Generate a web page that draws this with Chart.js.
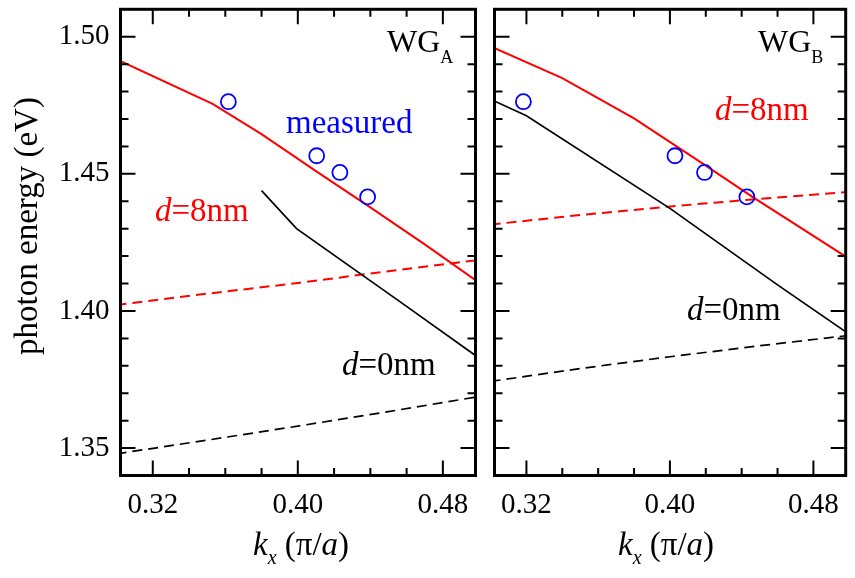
<!DOCTYPE html>
<html><head><meta charset="utf-8">
<script src="https://cdn.jsdelivr.net/npm/chart.js@4/dist/chart.umd.min.js"></script>
<style>
html,body{margin:0;padding:0;background:#fff;width:855px;height:578px;overflow:hidden}
canvas{position:absolute;top:0}
#cA{left:0}
#cB{left:485px}
</style></head><body>
<canvas id="cA" width="485" height="578"></canvas>
<canvas id="cB" width="370" height="578"></canvas>
<script>
// ---- tick labels ----
const xTickLabels = [0.32, 0.40, 0.48];
const yTickLabels = [1.35, 1.40, 1.45, 1.50];
const xMinorTicks = [0.32, 0.34, 0.36, 0.38, 0.40, 0.42, 0.44, 0.46, 0.48];
const yMinorTicks = [1.35, 1.36, 1.37, 1.38, 1.39, 1.40, 1.41, 1.42, 1.43, 1.44, 1.45, 1.46, 1.47, 1.48, 1.49, 1.50];

// ---- measured points (same energies in both panels) ----
const measuredE   = [1.4763, 1.4566, 1.4505, 1.4416];
const measuredK_A = [0.3617, 0.4104, 0.4232, 0.4385];
const measuredK_B = [0.3183, 0.4028, 0.4193, 0.4429];

// ---- WG_A ----
const kA_d8      = [0.300, 0.353, 0.380, 0.410, 0.440, 0.470, 0.500];
const eA_d8      = [1.4918, 1.4755, 1.4645, 1.4510, 1.4378, 1.4243, 1.4103];
const kA_d0      = [0.380, 0.3993, 0.4563, 0.500];
const eA_d0      = [1.4439, 1.4300, 1.4034, 1.3828];
const kA_d8_dash = [0.30, 0.35, 0.40, 0.45, 0.50];
const eA_d8_dash = [1.4022, 1.4063, 1.4102, 1.4145, 1.4186];
const kA_d0_dash = [0.30, 0.35, 0.40, 0.45, 0.50];
const eA_d0_dash = [1.3479, 1.3529, 1.3580, 1.3633, 1.3688];

// ---- WG_B ----
const kB_d8      = [0.30, 0.34, 0.38, 0.42, 0.446, 0.50];
const eB_d8      = [1.4965, 1.4849, 1.4702, 1.4530, 1.4416, 1.4190];
const kB_d0      = [0.30, 0.32, 0.40, 0.46, 0.50];
const eB_d0      = [1.4772, 1.4712, 1.4374, 1.4095, 1.3915];
const kB_d8_dash = [0.30, 0.35, 0.40, 0.45, 0.50];
const eB_d8_dash = [1.4315, 1.4350, 1.4381, 1.4409, 1.4434];
const kB_d0_dash = [0.30, 0.35, 0.40, 0.45, 0.50];
const eB_d0_dash = [1.3743, 1.3790, 1.3833, 1.3873, 1.3911];

const FONT = "'Liberation Serif', 'Times New Roman', serif";
const RED = '#ff0000', BLUE = '#0000ff', BLACK = '#000000';

function pts(xs, ys) { return xs.map((x, i) => ({x: x, y: ys[i]})); }

function drawRich(ctx, parts, x, y, color) {
  ctx.save();
  ctx.fillStyle = color;
  ctx.textBaseline = 'alphabetic';
  ctx.textAlign = 'left';
  let cx = x;
  for (const p of parts) {
    ctx.font = (p.it ? 'italic ' : '') + (p.size || 33) + 'px ' + FONT;
    ctx.fillText(p.t, cx, y + (p.dy || 0));
    cx += ctx.measureText(p.t).width + (p.gap || 0);
  }
  ctx.restore();
}

const framePlugin = {
  id: 'frameTicks',
  afterDatasetsDraw(chart) {
    const ctx = chart.ctx, a = chart.chartArea;
    const xs = chart.scales.x, ys = chart.scales.y;
    ctx.save();
    ctx.strokeStyle = BLACK;
    ctx.lineWidth = 2;
    ctx.beginPath();
    for (const v of xMinorTicks) {
      const px = xs.getPixelForValue(v);
      const len = xTickLabels.some(t => Math.abs(t - v) < 1e-6) ? 15 : 7.5;
      ctx.moveTo(px, a.bottom); ctx.lineTo(px, a.bottom - len);
      ctx.moveTo(px, a.top); ctx.lineTo(px, a.top + len);
    }
    for (const v of yMinorTicks) {
      const py = ys.getPixelForValue(v);
      const len = yTickLabels.some(t => Math.abs(t - v) < 1e-6) ? 15 : 8;
      ctx.moveTo(a.left, py); ctx.lineTo(a.left + len, py);
      ctx.moveTo(a.right, py); ctx.lineTo(a.right - len, py);
    }
    ctx.stroke();
    ctx.lineWidth = 3;
    ctx.strokeRect(a.left, a.top, a.right - a.left, a.bottom - a.top);
    ctx.restore();
  },
  afterDraw(chart) {
    const items = chart.options.plugins.frameTicks.texts || [];
    for (const it of items) {
      if (it.rotate) {
        const ctx = chart.ctx;
        ctx.save();
        ctx.translate(it.x, it.y);
        ctx.rotate(-Math.PI / 2);
        ctx.font = (it.size || 33) + 'px ' + FONT;
        ctx.fillStyle = it.color;
        ctx.textAlign = 'center';
        ctx.textBaseline = 'alphabetic';
        ctx.fillText(it.text, 0, 0);
        ctx.restore();
      } else {
        drawRich(chart.ctx, it.parts, it.x, it.y, it.color);
      }
    }
  }
};

function datasets(mk, kd8, ed8, kd0, ed0, kd8d, ed8d, kd0d, ed0d) {
  return [
    {label: 'measured', data: pts(mk, measuredE), showLine: false,
     pointRadius: 7.5, pointHoverRadius: 7.5, pointBorderWidth: 1.8,
     pointBorderColor: BLUE, pointBackgroundColor: 'rgba(0,0,0,0)'},
    {label: 'd=8nm', data: pts(kd8, ed8), showLine: true, borderColor: RED, borderWidth: 2, pointRadius: 0, tension: 0},
    {label: 'd=0nm', data: pts(kd0, ed0), showLine: true, borderColor: BLACK, borderWidth: 1.7, pointRadius: 0, tension: 0},
    {label: 'd=8nm (dashed)', data: pts(kd8d, ed8d), showLine: true, borderColor: RED, borderWidth: 2, borderDash: [10, 6], pointRadius: 0, tension: 0},
    {label: 'd=0nm (dashed)', data: pts(kd0d, ed0d), showLine: true, borderColor: BLACK, borderWidth: 1.7, borderDash: [10, 6], pointRadius: 0, tension: 0}
  ];
}

function zeroPad(s) { s.paddingTop = 0; s.paddingBottom = 0; s.paddingLeft = 0; s.paddingRight = 0; }

function scales(showY, yWidth) {
  return {
    x: {
      type: 'linear', min: 0.3022, max: 0.498,
      afterBuildTicks: s => { s.ticks = xTickLabels.map(v => ({value: v})); },
      afterFit: s => { s.height = 102.5; zeroPad(s); },
      ticks: {callback: v => Number(v).toFixed(2), font: {family: FONT, size: 29}, color: BLACK,
              padding: 12, maxRotation: 0, autoSkip: false},
      grid: {display: false, drawTicks: false},
      border: {display: false}
    },
    y: {
      type: 'linear', min: 1.34, max: 1.51, display: showY,
      afterBuildTicks: s => { s.ticks = yTickLabels.map(v => ({value: v})); },
      afterFit: s => { s.width = yWidth; zeroPad(s); },
      ticks: {callback: v => Number(v).toFixed(2), font: {family: FONT, size: 29}, color: BLACK,
              padding: 11, autoSkip: false},
      grid: {display: false, drawTicks: false},
      border: {display: false}
    }
  };
}

function xTitle(x) {
  return {x: x, y: 555, color: BLACK, parts: [
    {t: 'k', it: true}, {t: 'x', it: true, size: 20, dy: 9}, {t: ' (π/'}, {t: 'a', it: true}, {t: ')'}
  ]};
}

Chart.defaults.font.family = FONT;

new Chart(document.getElementById('cA'), {
  type: 'scatter',
  data: {datasets: datasets(measuredK_A, kA_d8, eA_d8, kA_d0, eA_d0, kA_d8_dash, eA_d8_dash, kA_d0_dash, eA_d0_dash)},
  options: {
    responsive: false, animation: false, events: [],
    layout: {padding: {left: 0, right: 9.5, top: 3.5, bottom: 0}},
    scales: scales(true, 120.5),
    plugins: {
      legend: {display: false}, tooltip: {enabled: false},
      frameTicks: {texts: [
        {rotate: true, text: 'photon energy (eV)', x: 37, y: 226, color: BLACK, size: 33},
        {x: 387, y: 52, color: BLACK, parts: [{t: 'WG', size: 32}, {t: 'A', size: 18, dy: 11}]},
        {x: 286, y: 133, color: BLUE, parts: [{t: 'measured'}]},
        {x: 155, y: 221, color: RED, parts: [{t: 'd', it: true}, {t: '=8nm'}]},
        {x: 342, y: 375, color: BLACK, parts: [{t: 'd', it: true}, {t: '=0nm'}]},
        xTitle(253)
      ]}
    }
  },
  plugins: [framePlugin]
});

new Chart(document.getElementById('cB'), {
  type: 'scatter',
  data: {datasets: datasets(measuredK_B, kB_d8, eB_d8, kB_d0, eB_d0, kB_d8_dash, eB_d8_dash, kB_d0_dash, eB_d0_dash)},
  options: {
    responsive: false, animation: false, events: [],
    layout: {padding: {left: 9.5, right: 4.5, top: 3.5, bottom: 0}},
    scales: scales(false, 0),
    plugins: {
      legend: {display: false}, tooltip: {enabled: false},
      frameTicks: {texts: [
        {x: 758 - 485, y: 52, color: BLACK, parts: [{t: 'WG', size: 32}, {t: 'B', size: 18, dy: 11}]},
        {x: 715 - 485, y: 120, color: RED, parts: [{t: 'd', it: true}, {t: '=8nm'}]},
        {x: 687 - 485, y: 320, color: BLACK, parts: [{t: 'd', it: true}, {t: '=0nm'}]},
        xTitle(618 - 485)
      ]}
    }
  },
  plugins: [framePlugin]
});
</script>
</body></html>
